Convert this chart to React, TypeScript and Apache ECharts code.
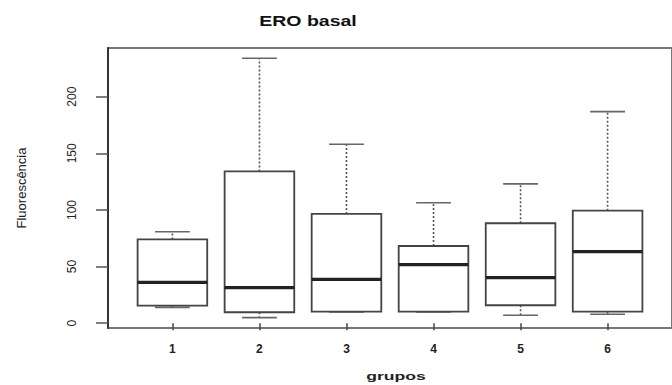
import React, { useEffect, useRef } from "react";
import * as echarts from "echarts";

const categories = [1, 2, 3, 4, 5, 6];
const lowerWhisker = [14, 5, 10, 10, 7, 8];
const q1 = [15.5, 9.7, 10.3, 10.3, 15.9, 10.2];
const medians = [36, 31.4, 38.8, 51.7, 40.3, 63.2];
const q3 = [74, 134, 96.5, 68.2, 88.3, 99.4];
const upperWhisker = [80.8, 233.9, 158, 106.4, 123, 186.8];
const yTicks = [0, 50, 100, 150, 200];

const titleText = "ERO basal";
const xName = "grupos";
const yName = "Fluorescência";

export default function App() {
  const ref = useRef<HTMLDivElement>(null);
  useEffect(() => {
    if (!ref.current) return;
    const chart = echarts.init(ref.current, null, { renderer: "svg" });
    const data = categories.map((c, i) => [c, lowerWhisker[i], q1[i], medians[i], q3[i], upperWhisker[i]]);
    const font = "'Liberation Sans', Arial, sans-serif";
    chart.setOption({
      animation: false,
      backgroundColor: "#fff",
      graphic: [
        {
          type: "text",
          x: 308,
          y: 21,
          scaleX: 1.3,
          style: { text: titleText, font: `bold 15px ${font}`, fill: "#111", textAlign: "center", textVerticalAlign: "middle" },
        },
        {
          type: "text",
          x: 396,
          y: 376,
          scaleX: 1.6,
          style: { text: xName, font: `bold 11px ${font}`, fill: "#222", textAlign: "center", textVerticalAlign: "middle" },
        },
      ],
      grid: {
        left: 108,
        top: 48,
        width: 575,
        height: 280,
        show: true,
        borderColor: "#777",
        borderWidth: 2,
        backgroundColor: "transparent",
      },
      xAxis: {
        type: "value",
        min: 0.26,
        max: 6.74,
        splitLine: { show: false },
        axisLine: { show: false },
        axisTick: { show: true, length: 7, customValues: categories, lineStyle: { color: "#444", width: 1.5 } },
        axisLabel: {
          customValues: categories,
          margin: 15,
          fontSize: 12,
          fontWeight: "bold",
          color: "#222",
          fontFamily: font,
        },
      },
      yAxis: {
        type: "value",
        min: -4.2,
        max: 243,
        splitLine: { show: false },
        axisLine: { show: true, lineStyle: { color: "#333", width: 2 } },
        axisTick: { show: true, length: 12, customValues: yTicks, lineStyle: { color: "#555", width: 1.5 } },
        axisLabel: {
          customValues: yTicks,
          rotate: 90,
          margin: 30,
          fontSize: 12,
          color: "#222",
          fontFamily: font,
        },
        name: yName,
        nameLocation: "middle",
        nameRotate: 90,
        nameGap: 80,
        nameTextStyle: { fontSize: 13, color: "#222", fontFamily: font },
      },
      series: [
        {
          type: "custom",
          data,
          encode: { x: 0, y: [1, 2, 3, 4, 5] },
          renderItem: (params: any, api: any) => {
            const x = api.value(0);
            const pMin = api.coord([x, api.value(1)]);
            const pQ1 = api.coord([x, api.value(2)]);
            const pMed = api.coord([x, api.value(3)]);
            const pQ3 = api.coord([x, api.value(4)]);
            const pMax = api.coord([x, api.value(5)]);
            const half = api.size([0.4, 0])[0];
            const cap = half / 2;
            const cx = pMed[0];
            const stroke = "#444";
            return {
              type: "group",
              children: [
                { type: "line", shape: { x1: cx, y1: pQ3[1], x2: cx, y2: pMax[1] }, style: { stroke: "#555", lineWidth: 1.6, lineDash: [2, 2] } },
                { type: "line", shape: { x1: cx, y1: pQ1[1], x2: cx, y2: pMin[1] }, style: { stroke: "#555", lineWidth: 1.6, lineDash: [2, 2] } },
                { type: "line", shape: { x1: cx - cap, y1: pMax[1], x2: cx + cap, y2: pMax[1] }, style: { stroke: "#666", lineWidth: 1.6 } },
                { type: "line", shape: { x1: cx - cap, y1: pMin[1], x2: cx + cap, y2: pMin[1] }, style: { stroke: "#666", lineWidth: 1.6 } },
                { type: "rect", shape: { x: cx - half, y: pQ3[1], width: half * 2, height: pQ1[1] - pQ3[1] }, style: { fill: "#fff", stroke, lineWidth: 1.8 } },
                { type: "line", shape: { x1: cx - half, y1: pMed[1], x2: cx + half, y2: pMed[1] }, style: { stroke: "#222", lineWidth: 3.2 } },
              ],
            };
          },
        },
      ],
    });
    return () => chart.dispose();
  }, []);
  return <div ref={ref} style={{ width: 672, height: 385, position: "absolute", left: 0, top: 0 }} />;
}
